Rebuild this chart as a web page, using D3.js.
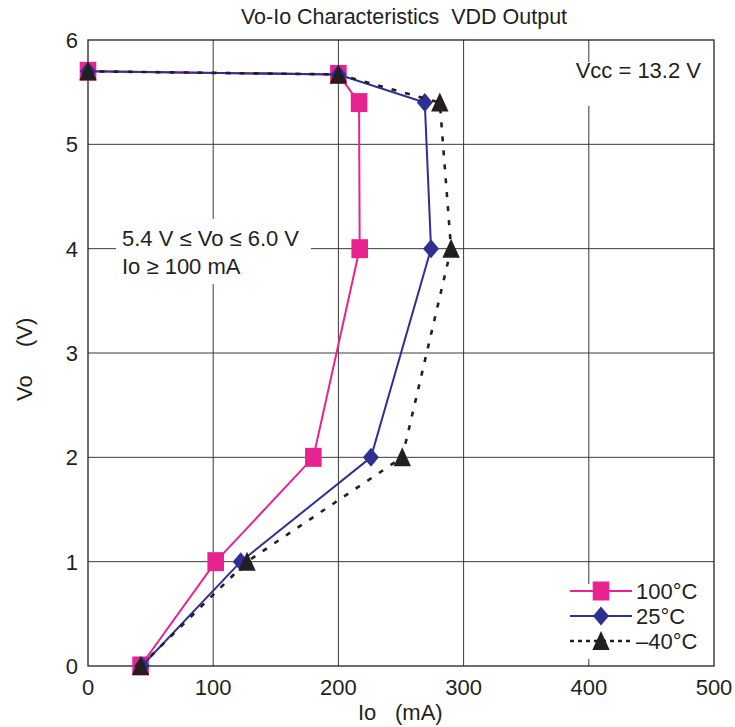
<!DOCTYPE html>
<html><head><meta charset="utf-8">
<script src="https://cdn.jsdelivr.net/npm/d3@7"></script>
<style>body{margin:0;background:#fff;} text{font-family:"Liberation Sans",Arial,sans-serif;fill:#231f20;}</style>
</head><body>
<svg id="c" width="735" height="727"></svg>
<script>
const xTicks = [0,100,200,300,400,500];
const yTicks = [0,1,2,3,4,5,6];
const io100 = [42,102,180,217,216.5,200,0];
const vo100 = [0,1,2,4,5.4,5.67,5.7];
const io25 = [43,122,226,274,269,200,0];
const vo25 = [0,1,2,4,5.4,5.67,5.7];
const ioM40 = [42,127,251,290,281,200,0];
const voM40 = [0,1,2,4,5.4,5.67,5.7];
const seriesNames = ["100°C","25°C","–40°C"];

const svg = d3.select("#c");
const x = d3.scaleLinear().domain([0,500]).range([88,714]);
const y = d3.scaleLinear().domain([0,6]).range([666,40]);
const FS = 22;

// grid
svg.append("g").selectAll("line").data(xTicks.slice(1,-1)).join("line")
  .attr("x1",d=>x(d)).attr("x2",d=>x(d)).attr("y1",y(6)).attr("y2",y(0))
  .attr("stroke","#3a3a3a").attr("stroke-width",1);
svg.append("g").selectAll("line").data(yTicks.slice(1,-1)).join("line")
  .attr("y1",d=>y(d)).attr("y2",d=>y(d)).attr("x1",x(0)).attr("x2",x(500))
  .attr("stroke","#3a3a3a").attr("stroke-width",1);

// white boxes behind annotations
svg.append("rect").attr("x",116).attr("y",219).attr("width",195).attr("height",65).attr("fill","#fff");
svg.append("rect").attr("x",566).attr("y",62).attr("width",142).attr("height",44).attr("fill","#fff");
svg.append("rect").attr("x",562).attr("y",584).attr("width",150).attr("height",75).attr("fill","#fff");

// border
svg.append("rect").attr("x",x(0)).attr("y",y(6)).attr("width",x(500)-x(0)).attr("height",y(0)-y(6))
  .attr("fill","none").attr("stroke","#231f20").attr("stroke-width",1.3);

// tick labels
svg.append("g").selectAll("text").data(xTicks).join("text")
  .attr("x",d=>x(d)).attr("y",695).attr("text-anchor","middle").attr("font-size",FS).text(d=>d);
svg.append("g").selectAll("text").data(yTicks).join("text")
  .attr("x",78).attr("y",d=>y(d)+8).attr("text-anchor","end").attr("font-size",FS).text(d=>d);

svg.append("text").attr("x",404).attr("y",24).attr("text-anchor","middle").attr("font-size",21.5)
  .style("white-space","pre").text("Vo-Io Characteristics  VDD Output");
// axis titles
svg.append("text").attr("x",358).attr("y",720).attr("font-size",FS).text("Io");
svg.append("text").attr("x",395).attr("y",720).attr("font-size",FS).text("(mA)");
svg.append("text").attr("transform","translate(32,401) rotate(-90)").attr("font-size",FS).text("Vo");
svg.append("text").attr("transform","translate(32,347) rotate(-90)").attr("font-size",FS).text("(V)");

svg.append("text").attr("x",701).attr("y",78).attr("text-anchor","end").attr("font-size",FS).text("Vcc = 13.2 V");
svg.append("text").attr("x",122).attr("y",246).attr("font-size",FS).text("5.4 V ≤ Vo ≤ 6.0 V");
svg.append("text").attr("x",122).attr("y",274).attr("font-size",FS).text("Io ≥ 100 mA");

// marker shapes (custom, slightly taller than wide like reference)
const shapes = {
  square: "M-8.3,-9.5H8.3V9.5H-8.3Z",
  diamond: "M0,-9.5L8,0L0,9.5L-8,0Z",
  triangle: "M0,-10L8.7,9L-8.7,9Z"
};

const line = d3.line().x(d=>x(d[0])).y(d=>y(d[1]));
const series = [
  {io:io100, vo:vo100, color:"#e8238f", dash:null, sym:shapes.square},
  {io:io25, vo:vo25, color:"#2e3192", dash:null, sym:shapes.diamond},
  {io:ioM40, vo:voM40, color:"#231f20", dash:"5,9", sym:shapes.triangle},
];
series.forEach((s,i)=>{
  const pts = s.io.map((v,j)=>[v,s.vo[j]]);
  svg.append("path").attr("d",line(pts)).attr("fill","none").attr("stroke",s.color)
    .attr("stroke-width",s.dash?2.6:2).attr("stroke-dasharray",s.dash);
  svg.append("g").selectAll("path").data(pts).join("path")
    .attr("d",s.sym)
    .attr("transform",d=>`translate(${x(d[0])},${y(d[1])})`).attr("fill",s.color);
  // legend
  const ly = 591 + i*25;
  svg.append("line").attr("x1",570).attr("x2",632).attr("y1",ly).attr("y2",ly)
    .attr("stroke",s.color).attr("stroke-width",s.dash?2.6:2).attr("stroke-dasharray",s.dash?"4,4":null);
  svg.append("path").attr("d",s.sym).attr("transform",`translate(601,${ly})`).attr("fill",s.color);
  svg.append("text").attr("x",636).attr("y",ly+8).attr("font-size",FS).text(seriesNames[i]);
});
</script>
</body></html>
